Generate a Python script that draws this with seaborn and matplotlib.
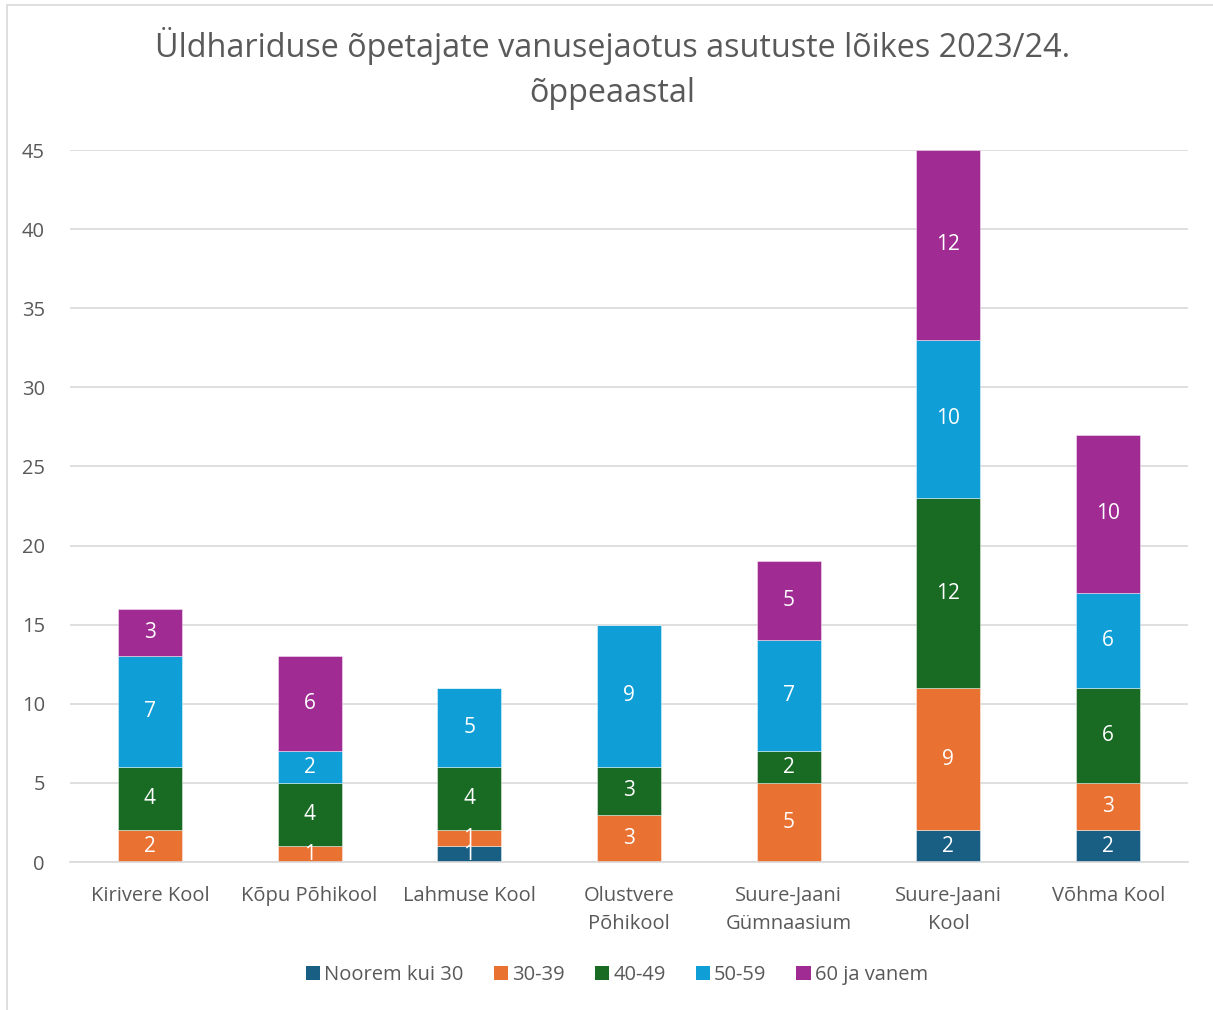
import matplotlib
matplotlib.use("Agg")
import matplotlib.pyplot as plt
import seaborn as sns
import pandas as pd
import numpy as np
from matplotlib.patches import Rectangle, Patch

schools = ["Kirivere Kool", "Kõpu Põhikool", "Lahmuse Kool", "Olustvere\nPõhikool",
           "Suure-Jaani\nGümnaasium", "Suure-Jaani\nKool", "Võhma Kool"]
groups = ["Noorem kui 30", "30-39", "40-49", "50-59", "60 ja vanem"]
noorem = [0, 0, 1, 0, 0, 2, 2]
g30 = [2, 1, 1, 3, 5, 9, 3]
g40 = [4, 4, 4, 3, 2, 12, 6]
g50 = [7, 2, 5, 9, 7, 10, 6]
g60 = [3, 6, 0, 0, 5, 12, 10]
colors = ["#195E83", "#E97132", "#196B24", "#0F9ED5", "#A02B93"]

series = [noorem, g30, g40, g50, g60]

sns.set_theme(style="white")
plt.rcParams['font.family'] = ['Open Sans', 'DejaVu Sans']

fig = plt.figure(figsize=(12.13, 10.10), dpi=100)
ax = fig.add_axes([70/1213, 1-862/1010, 1118/1213, 712/1010])

bottom = np.zeros(len(schools))
for name, vals, col in zip(groups, series, colors):
    df = pd.DataFrame({"school": schools, "n": vals})
    sns.barplot(data=df, x="school", y="n", color=col, bottom=bottom, width=0.4,
                ax=ax, saturation=1, edgecolor="#FFFFFF80", linewidth=0.6, label=name)
    cont = ax.containers[-1]
    labels = [str(v) if v > 0 else "" for v in vals]
    ax.bar_label(cont, labels=labels, label_type="center", color="white", fontsize=15)
    bottom = bottom + np.array(vals)

ax.set_xlim(-0.5, 6.5)
ax.set_ylim(0, 45)
ax.set_yticks(range(0, 46, 5))
ax.yaxis.grid(True, color="#D9D9D9", linewidth=1.2)
ax.set_axisbelow(True)
for s in ["top", "right", "left"]:
    ax.spines[s].set_visible(False)
ax.spines["bottom"].set_color("#D9D9D9")
ax.spines["bottom"].set_linewidth(1.2)
ax.set_xlabel("")
ax.set_ylabel("")
ax.tick_params(axis="both", length=0, labelsize=14.5, colors="#595959")
ax.tick_params(axis="y", pad=18)
ax.tick_params(axis="x", pad=17)
for t in ax.get_xticklabels():
    t.set_linespacing(1.55)

fig.text(0.505, 0.973, "Üldhariduse õpetajate vanusejaotus asutuste lõikes 2023/24.\nõppeaastal",
         ha="center", va="top", fontsize=23.3, color="#595959", linespacing=1.45)

handles = [Patch(facecolor=c, edgecolor="none") for c in colors]
ax.legend(handles, groups, loc="center", bbox_to_anchor=(617/1213, 1-975/1010),
          bbox_transform=fig.transFigure, ncol=5, frameon=False, fontsize=14.5,
          handlelength=0.7, handleheight=0.7, handletextpad=0.2, columnspacing=1.5,
          labelcolor="#595959")

fig.patches.append(Rectangle((7/1213, -0.01), 1.2, 1 - 5/1010 + 0.01, transform=fig.transFigure,
                             fill=False, edgecolor="#D9D9D9", linewidth=1.2))

fig.savefig("out.png", dpi=100, facecolor="white")
